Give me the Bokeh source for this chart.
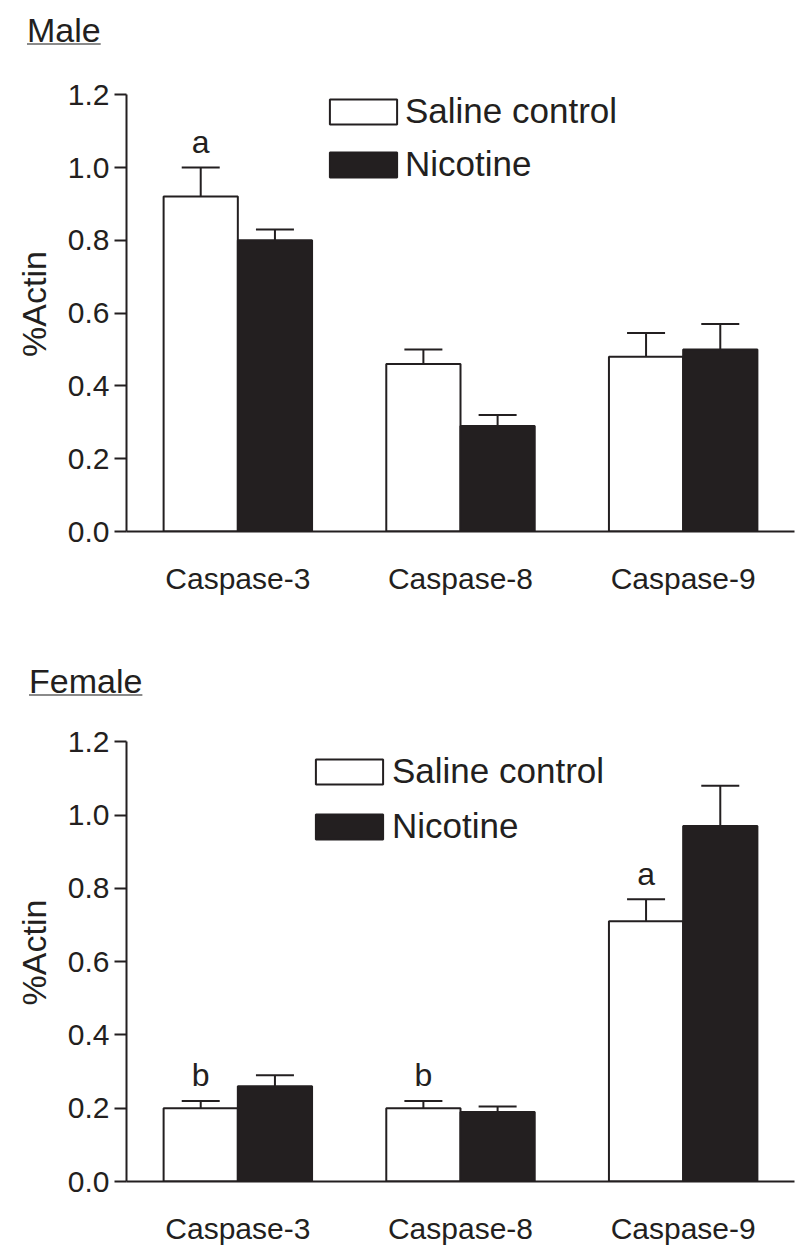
from bokeh.plotting import figure
from bokeh.layouts import column
from bokeh.models import (ColumnDataSource, FactorRange, Range1d, FixedTicker,
                          NumeralTickFormatter, Whisker, TeeHead, Legend, LegendItem, Div)
from bokeh.transform import dodge
from bokeh.core.properties import value
from bokeh.embed import file_html
from bokeh.resources import INLINE

categories = ["Caspase-3", "Caspase-8", "Caspase-9"]
series_names = ["Saline control", "Nicotine"]

male_saline = [0.92, 0.46, 0.48]
male_saline_sem = [0.08, 0.04, 0.065]
male_nicotine = [0.80, 0.29, 0.50]
male_nicotine_sem = [0.03, 0.03, 0.07]
male_letters = ["a", "", ""]

female_saline = [0.20, 0.20, 0.71]
female_saline_sem = [0.02, 0.02, 0.06]
female_nicotine = [0.26, 0.19, 0.97]
female_nicotine_sem = [0.03, 0.015, 0.11]
female_letters = ["b", "b", "a"]

y_ticks = [0.0, 0.2, 0.4, 0.6, 0.8, 1.0, 1.2]

INK = "#231f20"
FONT = "Liberation Sans"
W = 798


def title_div(text, height, pad_top, pad_left):
    html = (f'<div style="margin:0;padding:{pad_top}px 0 0 {pad_left}px;'
            f'font-family:\'Liberation Sans\',sans-serif;font-size:34px;line-height:34px;'
            f'color:{INK};white-space:nowrap">'
            f'<span style="text-decoration:underline;text-decoration-color:#8a8a8a;'
            f'text-decoration-thickness:1.5px;text-underline-offset:1px">{text}</span></div>')
    return Div(text=html, width=W, height=height, margin=(0, 0, 0, 0))


def make_panel(saline, s_sem, nic, n_sem, letters, height, b_top, b_bottom,
               legend_loc, legend_standoff, legend_spacing):
    p = figure(x_range=FactorRange(*categories, range_padding=0),
               y_range=Range1d(0, 1.25), width=W, height=height,
               output_backend="svg", toolbar_location=None,
               min_border_left=126, min_border_right=4,
               min_border_top=b_top, min_border_bottom=b_bottom)
    p.outline_line_color = None
    p.xgrid.grid_line_color = None
    p.ygrid.grid_line_color = None
    p.background_fill_color = None
    p.border_fill_color = "white"

    src = ColumnDataSource(dict(
        cat=categories, saline=saline, nic=nic,
        s_lo=saline, s_hi=[a + b for a, b in zip(saline, s_sem)],
        n_lo=nic, n_hi=[a + b for a, b in zip(nic, n_sem)],
    ))
    bw = 1 / 3
    r1 = p.vbar(x=dodge("cat", -bw / 2, range=p.x_range), top="saline", width=bw,
                source=src, fill_color="white", line_color=INK, line_width=2)
    r2 = p.vbar(x=dodge("cat", bw / 2, range=p.x_range), top="nic", width=bw,
                source=src, fill_color=INK, line_color=INK, line_width=2)

    for off, lo, hi in [(-bw / 2, "s_lo", "s_hi"), (bw / 2, "n_lo", "n_hi")]:
        w = Whisker(base=dodge("cat", off, range=p.x_range), lower=lo, upper=hi,
                    source=src, line_color=INK, line_width=2, lower_head=None,
                    upper_head=TeeHead(size=38, line_color=INK, line_width=2))
        p.add_layout(w)

    # significance letters above the saline error bars
    lc, ly, lt = [], [], []
    for c, v, e, t in zip(categories, saline, s_sem, letters):
        if t:
            lc.append(c); ly.append(v + e + 0.07); lt.append(t)
    lsrc = ColumnDataSource(dict(cat=lc, y=ly, t=lt))
    p.text(x=dodge("cat", -bw / 2, range=p.x_range), y="y", text="t", source=lsrc,
           text_align="center", text_baseline="alphabetic",
           text_font=value(FONT), text_font_size="32px", text_color=INK)

    ya = p.yaxis[0]
    ya.bounds = (0, 1.2)
    ya.ticker = FixedTicker(ticks=y_ticks)
    ya.formatter = NumeralTickFormatter(format="0.0")
    ya.minor_tick_line_color = None
    ya.major_tick_in = 0
    ya.major_tick_out = 12
    ya.major_tick_line_width = 2
    ya.major_tick_line_color = INK
    ya.axis_line_width = 2
    ya.axis_line_color = INK
    ya.major_label_standoff = 5
    ya.major_label_text_font = FONT
    ya.major_label_text_font_size = "30px"
    ya.major_label_text_color = INK
    ya.axis_label = "%Actin"
    ya.axis_label_text_font = FONT
    ya.axis_label_text_font_size = "34px"
    ya.axis_label_text_font_style = "normal"
    ya.axis_label_text_color = INK
    ya.axis_label_standoff = 12

    xa = p.xaxis[0]
    xa.major_tick_line_color = None
    xa.major_tick_in = 0
    xa.major_tick_out = 0
    xa.minor_tick_line_color = None
    xa.axis_line_width = 2
    xa.axis_line_color = INK
    xa.major_label_standoff = 30
    xa.major_label_text_font = FONT
    xa.major_label_text_font_size = "30px"
    xa.major_label_text_color = INK

    legend = Legend(items=[LegendItem(label=series_names[0], renderers=[r1]),
                           LegendItem(label=series_names[1], renderers=[r2])],
                    location=legend_loc, glyph_width=84, glyph_height=31,
                    label_height=31, spacing=legend_spacing,
                    label_standoff=legend_standoff, padding=0,
                    margin=0, border_line_color=None, background_fill_alpha=0,
                    label_text_font=FONT, label_text_font_size="35px",
                    label_text_color=INK, label_text_baseline="middle")
    p.add_layout(legend)
    return p


d1 = title_div("Male", 60, 13, 27)
p1 = make_panel(male_saline, male_saline_sem, male_nicotine, male_nicotine_sem,
                male_letters, 580, 16, 109, (195, 347), -3, 13)
d2 = title_div("Female", 60, 24, 29)
p2 = make_panel(female_saline, female_saline_sem, female_nicotine,
                female_nicotine_sem, female_letters, 554, 23, 73, (181, 335), 1, 15)

layout = column(d1, p1, d2, p2)
open("out.html", "w").write(file_html(layout, INLINE))
